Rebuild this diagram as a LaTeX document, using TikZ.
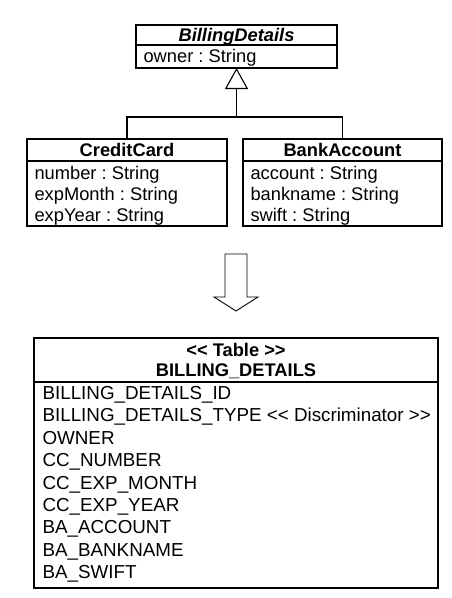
\documentclass[tikz,border=0pt]{standalone}
\usepackage{fontspec}
\setmainfont{Liberation Sans}
\usetikzlibrary{arrows.meta}
\frenchspacing
\newcommand{\lgl}{<\kern0pt<}
\newcommand{\rgr}{>\kern0pt>}
\begin{document}
\begin{tikzpicture}[x=1pt,y=-1pt, line width=1.1pt,
  box/.style={draw, anchor=north west, inner sep=0pt, outer sep=0pt},
  txt/.style={anchor=base west, inner sep=0pt, font=\fontsize{18.3}{22}\selectfont},
  row/.style={anchor=base west, inner sep=0pt, font=\fontsize{18.8}{22}\selectfont},
  ttl/.style={anchor=base, inner sep=0pt, font=\fontsize{18.3}{22}\selectfont\bfseries},
  ttli/.style={anchor=base, inner sep=0pt, font=\fontsize{18.3}{22}\selectfont\bfseries\itshape}]
\useasboundingbox (0,0) rectangle (451,598);
% BillingDetails
\node[box, minimum width=201, minimum height=20] (bdT) at (136,25) {};
\node[box, minimum width=201, minimum height=23] (bdA) at (136,45) {};
\node[ttli] (bdName) at (236.5,41.5) {BillingDetails};
\node[txt] (bdOwner) at (143,62.5) {owner : String};
% CreditCard
\node[box, minimum width=200, minimum height=22] (ccT) at (27,139) {};
\node[box, minimum width=200, minimum height=65] (ccA) at (27,161) {};
\node[ttl] (ccName) at (127,156.5) {CreditCard};
\node[txt] (cc1) at (34,179.5) {number : String};
\node[txt] (cc2) at (34,200.5) {expMonth : String};
\node[txt] (cc3) at (34,221.5) {expYear : String};
% BankAccount
\node[box, minimum width=199, minimum height=22] (baT) at (243,139) {};
\node[box, minimum width=199, minimum height=65] (baA) at (243,161) {};
\node[ttl] (baName) at (342.5,156.5) {BankAccount};
\node[txt] (ba1) at (250,179.5) {account : String};
\node[txt] (ba2) at (250,200.5) {bankname : String};
\node[txt] (ba3) at (250,221.5) {swift : String};
% inheritance
\coordinate (j) at (236.5,117);
\draw[-{Triangle[open,length=21pt,width=23pt]}] (j) -- (bdA.south);
\draw (ccT.north) |- (j) -| (baT.north);
% block arrow
\draw[line width=0.9pt] (225,254) -- (247,254) -- (247,297) -- (258,297) -- (236,311) -- (214,297) -- (225,297) -- cycle;
% Table
\node[box, minimum width=404, minimum height=44] (tT) at (34,338) {};
\node[box, minimum width=404, minimum height=206] (tA) at (34,382) {};
\node[ttl] (tSt) at (236,356) {\lgl{} Table \rgr};
\node[ttl] (tName) at (236,376) {BILLING\_DETAILS};
\node[row] (r1) at (42,399.5) {BILLING\_DETAILS\_ID};
\node[row] (r2) at (42,421.9) {BILLING\_DETAILS\_TYPE \lgl{} Discriminator \rgr};
\node[row] (r3) at (42,444.3) {OWNER};
\node[row] (r4) at (42,466.7) {CC\_NUMBER};
\node[row] (r5) at (42,489.1) {CC\_EXP\_MONTH};
\node[row] (r6) at (42,511.5) {CC\_EXP\_YEAR};
\node[row] (r7) at (42,533.9) {BA\_ACCOUNT};
\node[row] (r8) at (42,556.3) {BA\_BANKNAME};
\node[row] (r9) at (42,578.7) {BA\_SWIFT};
\end{tikzpicture}
\end{document}
